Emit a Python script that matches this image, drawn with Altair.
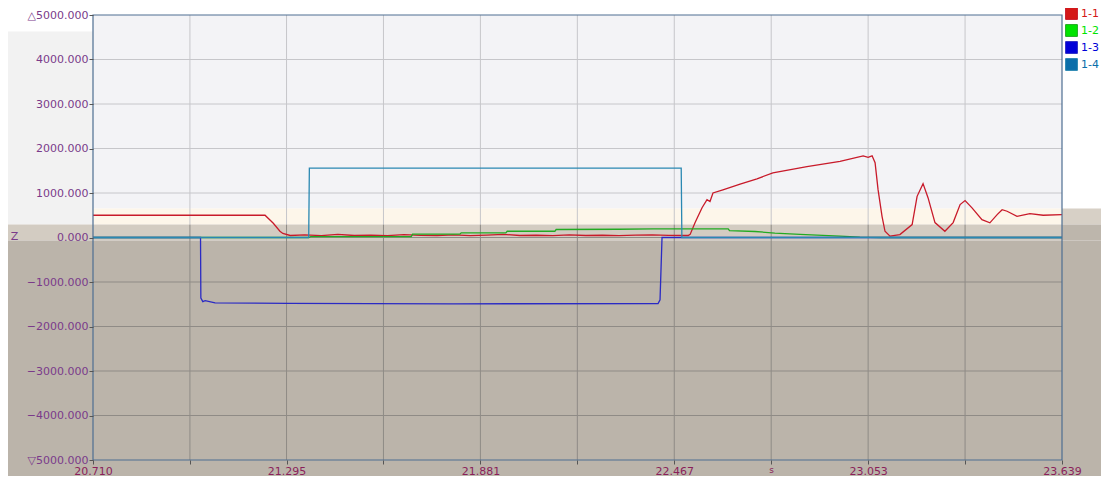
import altair as alt
import pandas as pd

# ---------------- data ----------------
series_names = ["1-1", "1-2", "1-3", "1-4"]
line_colors = ["#c81a2a", "#22aa22", "#2a2ac4", "#2a88b2"]
swatch_colors = ["#d41818", "#00e400", "#0000d8", "#0a6eaa"]

red_t = [20.710, 21.230, 21.255, 21.275, 21.284, 21.306, 21.350, 21.400, 21.450, 21.500,
         21.550, 21.600, 21.650, 21.700, 21.750, 21.800, 21.850, 21.900, 21.950, 22.000,
         22.050, 22.100, 22.150, 22.200, 22.250, 22.300, 22.350, 22.400, 22.450, 22.509,
         22.515, 22.530, 22.551, 22.566, 22.575, 22.584, 22.614, 22.666, 22.717, 22.765,
         22.868, 22.968, 23.038, 23.053, 23.065, 23.074, 23.083, 23.095, 23.104, 23.119,
         23.149, 23.186, 23.201, 23.219, 23.234, 23.255, 23.285, 23.310, 23.331, 23.346,
         23.367, 23.397, 23.421, 23.443, 23.458, 23.473, 23.503, 23.542, 23.582, 23.639]
red_v = [500, 500, 320, 140, 90, 45, 60, 40, 70, 45,
         55, 40, 65, 50, 45, 60, 40, 55, 70, 45,
         50, 40, 60, 45, 50, 40, 55, 60, 50, 45,
         70, 335, 670, 850, 810, 1000, 1070, 1200, 1320, 1450,
         1595, 1710, 1835, 1800, 1835, 1680, 1075, 475, 140, 30,
         65, 290, 925, 1210, 895, 335, 140, 335, 740, 830,
         665, 400, 330, 515, 625, 590, 475, 535, 500, 515]

green_t = [20.710, 21.362, 21.368, 21.672, 21.676, 21.819, 21.823, 21.958, 21.962, 22.106,
           22.110, 22.300, 22.403, 22.630, 22.634, 22.711, 22.771, 22.847, 22.968, 23.028,
           23.090, 23.639]
green_v = [0, 0, 20, 20, 75, 75, 105, 105, 140, 140,
           180, 185, 195, 195, 155, 135, 100, 70, 30, 10,
           0, 0]

blue_t = [20.710, 21.035, 21.036, 21.042, 21.049, 21.079, 21.300, 21.800, 22.418, 22.424,
          22.430, 23.639]
blue_v = [0, 0, -1360, -1440, -1420, -1470, -1480, -1490, -1485, -1400,
          0, 0]

teal_t = [20.710, 21.362, 21.364, 22.488, 22.490, 23.639]
teal_v = [0, 0, 1560, 1560, 0, 0]

y_ticks = [5000, 4000, 3000, 2000, 1000, 0, -1000, -2000, -3000, -4000, -5000]
x_label_ticks = [20.710, 21.295, 21.881, 22.467, 23.053, 23.639]
x_grid_ticks = [20.710, 21.003, 21.295, 21.588, 21.881, 22.174, 22.467, 22.760,
                23.053, 23.346, 23.639]

# background bands of the software window (data units)
band_x1 = [20.710, 20.450, 20.710, 23.639, 20.429, 20.450, 23.639]
band_x2 = [23.639, 20.710, 23.639, 23.830, 23.639, 23.830, 23.830]
band_y1 = [650, 290, 290, 290, -70, -5600, -70]
band_y2 = [5000, 4630, 650, 650, 290, -70, 290]
band_col = ["#f3f3f6", "#f2f2f2", "#fdf6ea", "#d7d0c6", "#d3ccc2", "#bbb4aa", "#bdb6ac"]

# ---------------- tables ----------------
rows = []
for name, ts, vs in zip(series_names, [red_t, green_t, blue_t, teal_t],
                        [red_v, green_v, blue_v, teal_v]):
    for i, (t, v) in enumerate(zip(ts, vs)):
        rows.append({"series": name, "t": t, "v": v, "i": i})
lines_df = pd.DataFrame(rows)

bands_df = pd.DataFrame({"x1": band_x1, "x2": band_x2, "y1": band_y1, "y2": band_y2, "c": band_col})

vgrid_rows = []
for t in x_grid_ticks[1:-1]:
    vgrid_rows.append({"t": t, "y1": 290, "y2": y_ticks[0], "c": "#c6c6ca"})
    vgrid_rows.append({"t": t, "y1": y_ticks[-1], "y2": 290, "c": "#8f8b86"})
vgrid_df = pd.DataFrame(vgrid_rows)
hgrid_df = pd.DataFrame({"v": y_ticks[1:-1],
                         "c": ["#c6c6ca" if v > 0 else "#8f8b86" for v in y_ticks[1:-1]]})
frame_df = pd.DataFrame({"x1": [x_grid_ticks[0]], "x2": [x_grid_ticks[-1]],
                         "y1": [y_ticks[-1]], "y2": [y_ticks[0]]})

xscale = alt.Scale(domain=[x_grid_ticks[0], x_grid_ticks[-1]], nice=False, zero=False)
yscale = alt.Scale(domain=[y_ticks[-1], y_ticks[0]], nice=False, zero=False)

label_col_y = "#7a3a8a"
label_col_x = "#8a1f5a"

label_list = "[" + ",".join("'%.3f'" % v for v in x_label_ticks) + "]"
x_axis = alt.Axis(values=x_grid_ticks, grid=False, domain=False, tickSize=4, zindex=1,
                  tickColor="#555555", labelColor=label_col_x, labelFontSize=11,
                  labelPadding=1, labelOverlap=False, labelFlush=False,
                  labelExpr="indexof(" + label_list + ", format(datum.value, '.3f')) >= 0 ? format(datum.value, '.3f') : ''",
                  title="s", titleFontSize=9, titleFontWeight="normal", titleColor=label_col_x,
                  titleX=678, titleY=9, titleBaseline="middle")
y_axis = alt.Axis(values=y_ticks, grid=False, domain=False, tickSize=4, tickColor="#555555",
                  zindex=1,
                  labelColor=label_col_y, labelFontSize=11, labelPadding=1,
                  labelOverlap=False, labelFlush=False,
                  labelExpr="datum.value == 5000 ? '\u25b35000.000' : (datum.value == -5000 ? '\u25bd5000.000' : format(datum.value, '.3f'))",
                  title="Z", titleAngle=0, titleFontSize=11, titleFontWeight="normal",
                  titleColor=label_col_y, titleX=-79, titleY=221, titleAlign="center",
                  titleBaseline="middle")

bands = alt.Chart(bands_df).mark_rect(clip=False).encode(
    x=alt.X("x1:Q", scale=xscale, axis=x_axis),
    x2="x2:Q",
    y=alt.Y("y1:Q", scale=yscale, axis=y_axis),
    y2="y2:Q",
    fill=alt.Fill("c:N", scale=None, legend=None),
)

vgrid = alt.Chart(vgrid_df).mark_rule(strokeWidth=1).encode(
    x=alt.X("t:Q", scale=xscale), y=alt.Y("y1:Q", scale=yscale), y2="y2:Q",
    color=alt.Color("c:N", scale=None, legend=None),
)
hgrid = alt.Chart(hgrid_df).mark_rule(strokeWidth=1).encode(
    y=alt.Y("v:Q", scale=yscale),
    color=alt.Color("c:N", scale=None, legend=None),
)

swatch_expr = "{" + ",".join("'%s':'%s'" % (n, c) for n, c in zip(series_names, swatch_colors)) + "}[datum.value]"
lines = alt.Chart(lines_df).mark_line(strokeWidth=1.3).encode(
    x=alt.X("t:Q", scale=xscale),
    y=alt.Y("v:Q", scale=yscale),
    order="i:Q",
    stroke=alt.Stroke("series:N",
                      scale=alt.Scale(domain=series_names, range=line_colors),
                      legend=alt.Legend(title=None, orient="none", legendX=972, legendY=-8,
                                        symbolType="square", symbolSize=140,
                                        symbolStrokeWidth=1,
                                        symbolStrokeColor="#333333",
                                        symbolFillColor={"expr": swatch_expr},
                                        labelColor={"expr": swatch_expr},
                                        labelFontSize=11, zindex=2,
                                        labelOffset=3, rowPadding=0)),
)

frame = alt.Chart(frame_df).mark_rect(fillOpacity=0, stroke="#4e6e92", strokeWidth=1.2).encode(
    x=alt.X("x1:Q", scale=xscale), x2="x2:Q",
    y=alt.Y("y1:Q", scale=yscale), y2="y2:Q",
)

chart = alt.layer(bands, vgrid, hgrid, lines, frame).properties(
    width=969, height=445,
    autosize=alt.AutoSizeParams(type="none"),
    padding={"left": 85, "top": 7, "right": 39, "bottom": 16},
    background="#ffffff",
).configure(font="DejaVu Sans").configure_view(stroke=None)

chart.save("out.html", embed_options={"renderer": "svg", "actions": False})
